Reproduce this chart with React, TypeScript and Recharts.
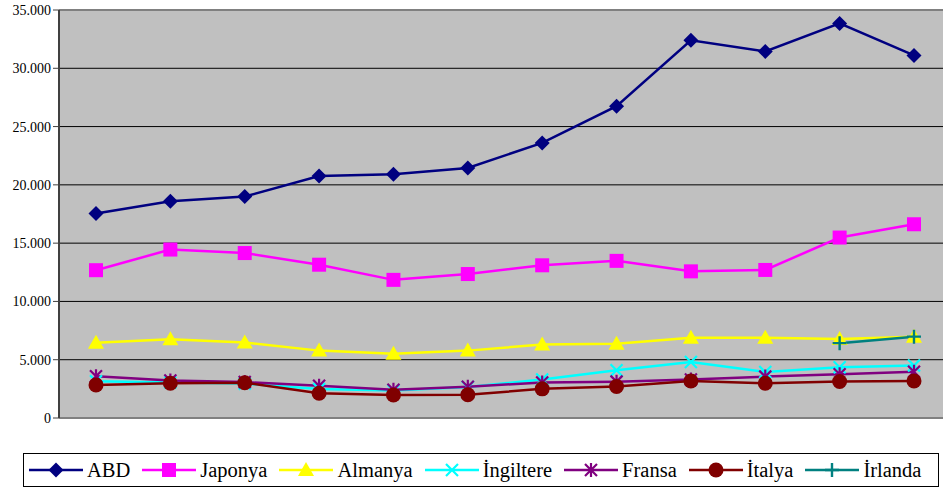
import React from "react";
import {
  LineChart,
  Line,
  XAxis,
  YAxis,
  CartesianGrid,
  ReferenceLine,
} from "recharts";

const periods = ["1", "2", "3", "4", "5", "6", "7", "8", "9", "10", "11", "12"];

const abd = [17550, 18600, 19000, 20750, 20900, 21450, 23600, 26750, 32400, 31450, 33850, 31100];
const japonya = [12680, 14450, 14150, 13150, 11850, 12350, 13100, 13480, 12580, 12700, 15480, 16620];
const almanya = [6450, 6750, 6480, 5780, 5520, 5780, 6300, 6380, 6880, 6880, 6780, 6980];
const ingiltere = [3150, 3050, 2950, 2480, 2350, 2650, 3300, 4100, 4800, 3950, 4350, 4500];
const fransa = [3580, 3220, 3080, 2760, 2420, 2680, 3050, 3120, 3300, 3550, 3750, 3960];
const italya = [2830, 2980, 3030, 2120, 1980, 2000, 2500, 2700, 3170, 2980, 3130, 3180];
const irlanda = [null, null, null, null, null, null, null, null, null, null, 6420, 6980];

const yTicks = [0, 5000, 10000, 15000, 20000, 25000, 30000, 35000];

const data = periods.map((p, i) => ({
  period: p,
  ABD: abd[i],
  Japonya: japonya[i],
  Almanya: almanya[i],
  "İngiltere": ingiltere[i],
  Fransa: fransa[i],
  "İtalya": italya[i],
  "İrlanda": irlanda[i],
}));

type Shape = "diamond" | "square" | "triangle" | "x" | "star" | "circle" | "plus";

const series: { key: string; color: string; shape: Shape }[] = [
  { key: "ABD", color: "#000080", shape: "diamond" },
  { key: "Japonya", color: "#FF00FF", shape: "square" },
  { key: "Almanya", color: "#FFFF00", shape: "triangle" },
  { key: "İngiltere", color: "#00FFFF", shape: "x" },
  { key: "Fransa", color: "#800080", shape: "star" },
  { key: "İtalya", color: "#800000", shape: "circle" },
  { key: "İrlanda", color: "#008080", shape: "plus" },
];

function marker(shape: Shape, color: string, cx: number, cy: number) {
  switch (shape) {
    case "diamond":
      return (
        <polygon
          points={`${cx},${cy - 7.5} ${cx + 7.5},${cy} ${cx},${cy + 7.5} ${cx - 7.5},${cy}`}
          fill={color}
        />
      );
    case "square":
      return <rect x={cx - 7} y={cy - 7} width={14} height={14} fill={color} />;
    case "triangle":
      return (
        <polygon
          points={`${cx},${cy - 8} ${cx + 8},${cy + 6} ${cx - 8},${cy + 6}`}
          fill={color}
        />
      );
    case "circle":
      return <circle cx={cx} cy={cy} r={7.5} fill={color} />;
    case "x":
      return (
        <path
          d={`M${cx - 6},${cy - 6}L${cx + 6},${cy + 6}M${cx - 6},${cy + 6}L${cx + 6},${cy - 6}`}
          stroke={color}
          strokeWidth={2.2}
        />
      );
    case "star":
      return (
        <path
          d={`M${cx - 6},${cy - 6}L${cx + 6},${cy + 6}M${cx - 6},${cy + 6}L${cx + 6},${cy - 6}M${cx},${cy - 7}L${cx},${cy + 7}`}
          stroke={color}
          strokeWidth={2.2}
        />
      );
    case "plus":
      return (
        <path
          d={`M${cx - 7},${cy}L${cx + 7},${cy}M${cx},${cy - 7}L${cx},${cy + 7}`}
          stroke={color}
          strokeWidth={2.4}
        />
      );
  }
}

const fmt = (v: number) =>
  v === 0 ? "0" : `${Math.floor(v / 1000)}.${String(v % 1000).padStart(3, "0")}`;

const font = "Liberation Serif, DejaVu Serif, serif";

export default function App() {
  return (
    <div
      style={{
        position: "absolute",
        left: 0,
        top: 0,
        width: 943,
        height: 491,
        overflow: "hidden",
        background: "#fff",
        fontFamily: font,
      }}
    >
      <LineChart
        width={960}
        height={430}
        data={data}
        margin={{ top: 10, right: 9, left: 0, bottom: 11 }}
      >
        <CartesianGrid vertical={false} stroke="#000" fill="#C0C0C0" fillOpacity={1} />
        <ReferenceLine y={35000} stroke="#808080" strokeWidth={2} />
        <XAxis
          dataKey="period"
          tick={false}
          tickLine={false}
          height={1}
          padding={{ left: 37, right: 37 }}
          axisLine={{ stroke: "#808080", strokeWidth: 2 }}
        />
        <YAxis
          width={59}
          domain={[0, 35000]}
          ticks={yTicks}
          interval={0}
          tickFormatter={fmt}
          tickSize={6}
          tickMargin={2}
          axisLine={{ stroke: "#404040", strokeWidth: 2 }}
          tickLine={{ stroke: "#404040" }}
          tick={{ fill: "#000", fontSize: 14, fontFamily: font }}
        />
        {series.map((s) => (
          <Line
            key={s.key}
            dataKey={s.key}
            stroke={s.color}
            strokeWidth={2.5}
            isAnimationActive={false}
            activeDot={false}
            dot={(p: any) => (
              <g key={`${s.key}-${p.index}`}>
                {p.cx != null && p.cy != null && p.value != null
                  ? marker(s.shape, s.color, p.cx, p.cy)
                  : null}
              </g>
            )}
          />
        ))}
      </LineChart>
      <div
        style={{
          position: "absolute",
          left: 23,
          top: 453,
          width: 909,
          height: 32,
          border: "1px solid #000",
          display: "flex",
          alignItems: "center",
          paddingLeft: 5,
          boxSizing: "content-box",
          fontSize: 20.5,
          fontFamily: font,
        }}
      >
        {series.map((s) => (
          <div key={s.key} style={{ display: "flex", alignItems: "center", marginRight: 12 }}>
            <svg width={54} height={20} style={{ marginRight: 4 }}>
              <line x1={0} y1={10} x2={54} y2={10} stroke={s.color} strokeWidth={2.5} />
              {marker(s.shape, s.color, 27, 10)}
            </svg>
            <span>{s.key}</span>
          </div>
        ))}
      </div>
    </div>
  );
}
